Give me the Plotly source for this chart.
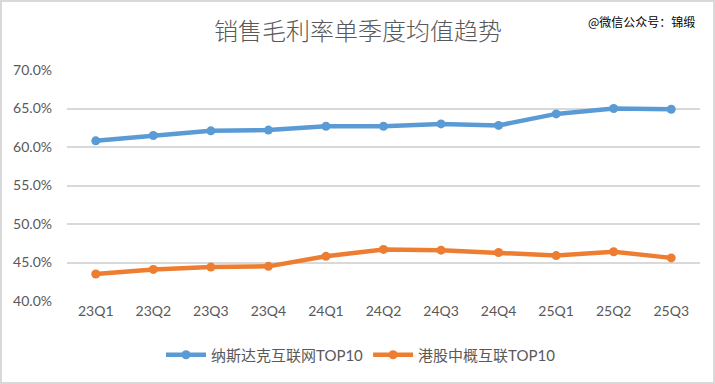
import plotly.graph_objects as go

quarters = ["23Q1", "23Q2", "23Q3", "23Q4", "24Q1", "24Q2", "24Q3", "24Q4", "25Q1", "25Q2", "25Q3"]
nasdaq_top10 = [60.8, 61.5, 62.1, 62.2, 62.7, 62.7, 63.0, 62.8, 64.3, 65.0, 64.9]
hk_top10 = [43.5, 44.1, 44.4, 44.5, 45.8, 46.7, 46.6, 46.3, 45.9, 46.4, 45.6]
y_ticks = [40, 45, 50, 55, 60, 65, 70]

W, H = 715, 384
L, R, T, B = 67, 15, 70, 83

fig = go.Figure()
fig.add_trace(go.Scatter(
    x=quarters, y=[v / 100 for v in nasdaq_top10], name="纳斯达克互联网TOP10",
    mode="lines+markers", line=dict(color="#5B9BD5", width=4.5),
    marker=dict(size=9, color="#5B9BD5")))
fig.add_trace(go.Scatter(
    x=quarters, y=[v / 100 for v in hk_top10], name="港股中概互联TOP10",
    mode="lines+markers", line=dict(color="#ED7D31", width=4.5),
    marker=dict(size=9, color="#ED7D31")))

font_fam = "Lato, Noto Sans CJK SC, sans-serif"
fig.update_layout(
    width=W, height=H,
    margin=dict(l=L, r=R, t=T, b=B),
    paper_bgcolor="white", plot_bgcolor="white",
    font=dict(family=font_fam, color="#595959", size=14),
    title=dict(text="销售毛利率单季度均值趋势", x=(358 - L) / (W - L - R), xanchor="center", xref="paper",
               y=1 - 32 / H, yanchor="middle",
               font=dict(size=24, color="#595959", weight=300,
                         family="Noto Sans CJK SC, sans-serif")),
    showlegend=True,
    legend=dict(orientation="h", x=(361 - L) / (W - L - R), xanchor="center",
                y=-(355 - (H - B)) / (H - T - B),
                yanchor="middle", font=dict(size=15, color="#595959", family=font_fam),
                itemwidth=40, tracegroupgap=0),
    xaxis=dict(type="category", range=[-0.5, 10.5], showgrid=False, showline=False,
               ticks="", tickfont=dict(size=14, color="#595959")),
    yaxis=dict(range=[0.40, 0.70], tickvals=[v / 100 for v in y_ticks],
               ticktext=[f"{v:.1f}%" for v in y_ticks],
               showgrid=True, gridcolor="#D9D9D9", gridwidth=1.5, zeroline=False,
               showline=False, ticks="", ticklabelstandoff=14,
               tickfont=dict(size=14, color="#595959")),
)

# outer border
pw, ph = W - L - R, H - T - B
fig.add_shape(type="rect", xref="paper", yref="paper",
              x0=-(L - 1) / pw, x1=1 + (R - 1) / pw,
              y0=-(B - 1) / ph, y1=1 + (T - 1) / ph,
              line=dict(color="#D9D9D9", width=2), layer="below")

fig.add_annotation(text="@微信公众号：锦缎", xref="paper", yref="paper",
                   x=1 + (R - 18) / pw, y=1 + (T - 22) / ph, xanchor="right", yanchor="middle",
                   showarrow=False, font=dict(size=12, color="#000000",
                                              family="Noto Sans CJK SC, sans-serif"))

fig.write_html("out.html", config={"displayModeBar": False},
               post_script="document.body.style.margin='0';")
